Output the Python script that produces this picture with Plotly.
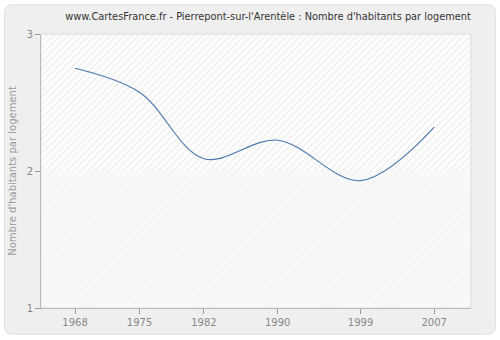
import plotly.graph_objects as go

years = [1968, 1975, 1982, 1990, 1999, 2007]
values = [2.75, 2.575, 2.09, 2.225, 1.93, 2.32]
x_ticks = [1968, 1975, 1982, 1990, 1999, 2007]
y_ticks = [1, 2, 3]

X_RANGE = [1964.3, 2011.0]
Y_RANGE = [1, 3]

# plot area in pixels
L, R, T, B = 41, 471, 34, 310
W, H = 500, 340

fig = go.Figure()

# hatched background bands
fig.add_trace(go.Scatter(
    x=[X_RANGE[0], X_RANGE[1], X_RANGE[1], X_RANGE[0], X_RANGE[0]],
    y=[2, 2, 3, 3, 2], fill="toself", mode="none", fillcolor="rgba(0,0,0,0)",
    fillpattern=dict(shape="/", fgcolor="#dedede", bgcolor="#fdfdfd", size=5, solidity=0.25),
    hoverinfo="skip", showlegend=False))
fig.add_trace(go.Scatter(
    x=[X_RANGE[0], X_RANGE[1], X_RANGE[1], X_RANGE[0], X_RANGE[0]],
    y=[1, 1, 2, 2, 1], fill="toself", mode="none", fillcolor="rgba(0,0,0,0)",
    fillpattern=dict(shape="/", fgcolor="#ececec", bgcolor="#f9f9f9", size=5, solidity=0.2),
    hoverinfo="skip", showlegend=False))

fig.add_trace(go.Scatter(
    x=years, y=values, mode="lines",
    line=dict(color="#4a77ad", width=1.1, shape="spline", smoothing=1.0),
    showlegend=False))

def px_to_paper_x(p):
    return (p - L) / (R - L)

def px_to_paper_y(p):
    return (B - p) / (B - T)

# rounded outer panel
x0, x1, y0, y1, r = 4.5, 495.5, 4.5, 336.5, 8
def P(x, y):
    return f"{px_to_paper_x(x):.5f},{px_to_paper_y(y):.5f}"
path = (f"M {P(x0 + r, y0)} L {P(x1 - r, y0)} Q {P(x1, y0)} {P(x1, y0 + r)} "
        f"L {P(x1, y1 - r)} Q {P(x1, y1)} {P(x1 - r, y1)} "
        f"L {P(x0 + r, y1)} Q {P(x0, y1)} {P(x0, y1 - r)} "
        f"L {P(x0, y0 + r)} Q {P(x0, y0)} {P(x0 + r, y0)} Z")
fig.add_shape(type="path", path=path, xref="paper", yref="paper",
              fillcolor="#efefef", line=dict(color="#e2e2e2", width=1), layer="below")
# light plot border (top/right)
fig.add_shape(type="rect", xref="paper", yref="paper", x0=0, x1=1, y0=0, y1=1,
              line=dict(color="#dddddd", width=1), fillcolor="rgba(0,0,0,0)", layer="above")

fig.update_layout(
    width=W, height=H,
    margin=dict(l=L, r=W - R, t=T, b=H - B),
    paper_bgcolor="white",
    plot_bgcolor="#fbfbfb",
    title=dict(text="www.CartesFrance.fr - Pierrepont-sur-l'Arentèle : Nombre d'habitants par logement",
               x=(268 - L) / (R - L), xanchor="center", xref="paper", y=1 - 17 / H, yanchor="middle",
               font=dict(family="DejaVu Sans", size=9.8, color="#333333")),
    font=dict(family="DejaVu Sans"),
)
fig.update_xaxes(range=X_RANGE, tickvals=x_ticks, ticktext=[str(v) for v in x_ticks],
                 showgrid=True, gridcolor="#e2e2e2", griddash="dash", gridwidth=1,
                 showline=True, linecolor="#999999", linewidth=1,
                 ticks="outside", ticklen=5, tickcolor="#999999",
                 tickfont=dict(size=10, color="#888888"), zeroline=False)
fig.update_yaxes(range=Y_RANGE, tickvals=y_ticks,
                 showgrid=True, gridcolor="#e2e2e2", griddash="dash", gridwidth=1,
                 showline=True, linecolor="#999999", linewidth=1,
                 ticks="outside", ticklen=5, tickcolor="#999999",
                 tickfont=dict(size=10, color="#888888"), zeroline=False,
                 title=dict(text="Nombre d'habitants par logement", standoff=8,
                            font=dict(size=10, color="#999999")))

fig.write_html("out.html", config={"displayModeBar": False},
               post_script="document.body.style.margin='0';document.body.style.overflow='hidden';")
